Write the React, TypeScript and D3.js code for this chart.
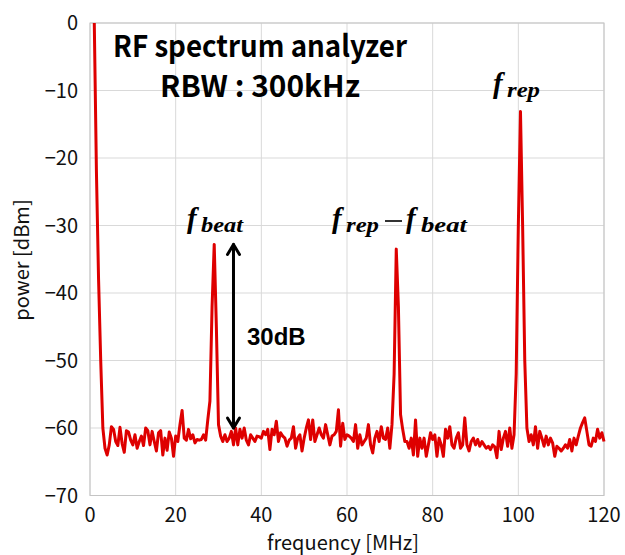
import React from 'react';
import * as d3 from 'd3';

// RF spectrum, 1.0 MHz .. 120.0 MHz in 0.5 MHz steps (dBm)
const startMHz = 1.0;
const stepMHz = 0.5;
const powerDBm = [
  0, -22, -38, -50, -60, -63.0, -64.0, -62.5, -59.8, -60.2,
  -62.0, -62.6, -59.9, -62.3, -63.6, -60.4, -60.6, -61.8, -62.5, -61.0,
  -63.0, -62.0, -61.2, -62.6, -60.0, -60.4, -62.5, -60.5, -62.0, -63.4,
  -60.7, -60.4, -64.0, -61.5, -63.3, -60.6, -61.5, -64.2, -61.2, -62.0,
  -59.5, -57.4, -61.5, -61.8, -60.2, -61.6, -61.0, -62.2, -61.7, -61.8,
  -61.7, -61.0, -61.8, -58.8, -56.0, -42.0, -32.8, -45.0, -59.5, -61.2,
  -62.0, -61.0, -62.0, -61.5, -60.5, -62.5, -60.0, -62.5, -60.2, -61.5,
  -60.0, -61.8, -62.5, -61.0, -61.5, -62.0, -61.2, -61.3, -61.5, -60.5,
  -61.0, -60.2, -63.2, -60.2, -61.0, -59.0, -62.0, -60.7, -61.2, -61.5,
  -62.7, -61.8, -61.5, -59.8, -63.0, -61.5, -61.0, -63.4, -61.5, -60.0,
  -58.8, -61.7, -58.8, -62.0, -61.0, -60.0, -61.0, -61.5, -59.5, -61.0,
  -62.5, -61.2, -61.0, -60.5, -57.3, -62.7, -59.3, -61.7, -61.0, -61.2,
  -61.5, -62.0, -59.5, -63.0, -61.0, -62.5, -62.0, -61.5, -59.5, -62.5,
  -63.7, -61.5, -60.5, -62.0, -59.8, -61.5, -61.7, -60.0, -63.0, -59.5,
  -52.0, -33.5, -42.0, -58.0, -60.2, -62.0, -62.0, -63.0, -61.5, -64.0,
  -58.8, -64.2, -61.5, -63.0, -61.5, -64.2, -62.5, -60.7, -61.7, -61.0,
  -64.2, -61.5, -62.5, -64.2, -60.2, -61.5, -59.8, -62.5, -63.0, -61.5,
  -60.7, -63.0, -62.5, -58.5, -62.5, -63.4, -62.0, -61.5, -62.5, -61.7,
  -62.7, -62.0, -62.5, -63.0, -62.7, -63.2, -62.5, -62.8, -64.4, -60.5,
  -63.2, -61.5, -60.5, -62.7, -60.0, -63.0, -61.0, -52.0, -30.0, -13.1,
  -30.0, -50.0, -60.0, -62.0, -61.0, -62.5, -59.8, -63.0, -60.5, -61.5,
  -62.7, -61.2, -62.5, -61.5, -62.2, -64.2, -62.7, -63.0, -63.4, -63.0,
  -62.5, -63.0, -61.7, -63.4, -61.5, -62.5, -61.2, -60.0, -59.2, -58.5,
  -60.5, -62.5, -62.7, -61.5, -62.0, -60.2, -61.5, -60.7, -62.0,
];

const xTicks = [0, 20, 40, 60, 80, 100, 120];
const yTicks = [0, -10, -20, -30, -40, -50, -60, -70];

// 30 dB arrow between the f_beat peak and the noise floor
const arrowMHz = 33.5;
const arrowFrom = -60;
const arrowTo = -32.8;

const W = 625;
const H = 555;
const plot = { left: 90, right: 604, top: 23, bottom: 495.5 };

const labelFont = '"Noto Sans CJK JP", "Noto Sans", sans-serif';
const mathFont = '"Liberation Serif", "DejaVu Serif", serif';

// italic f with a subscript, placed by hand to the picture's letter boxes
const MathF = (props: { x: number; y: number; sub: string; subX: number; subW: number }) => (
  <g fontFamily={mathFont} fontStyle="italic" fontWeight="bold" fill="#000">
    <text x={props.x} y={props.y} fontSize={29}>
      f
    </text>
    <text
      x={props.subX}
      y={props.y + 4}
      fontSize={21}
      textLength={props.subW}
      lengthAdjust="spacingAndGlyphs"
    >
      {props.sub}
    </text>
  </g>
);

const App = () => {
  const x = d3.scaleLinear().domain([0, 120]).range([plot.left, plot.right]);
  const y = d3.scaleLinear().domain([-70, 0]).range([plot.bottom, plot.top]);

  const points: [number, number][] = powerDBm.map((p, i) => [startMHz + i * stepMHz, p]);
  const line = d3
    .line<[number, number]>()
    .x((d) => x(d[0]))
    .y((d) => y(d[1]));

  const ax = x(arrowMHz);
  const ay1 = y(arrowFrom);
  const ay2 = y(arrowTo);

  return (
    <svg width={W} height={H} style={{ position: 'absolute', left: 0, top: 0, background: '#fff' }}>
      {/* grid */}
      {xTicks.map((t) => (
        <line key={'gx' + t} x1={x(t)} x2={x(t)} y1={plot.top} y2={plot.bottom} stroke="#d9d9d9" strokeWidth={1} />
      ))}
      {yTicks.map((t) => (
        <line key={'gy' + t} x1={plot.left} x2={plot.right} y1={y(t)} y2={y(t)} stroke="#d9d9d9" strokeWidth={1} />
      ))}
      <rect
        x={plot.left}
        y={plot.top}
        width={plot.right - plot.left}
        height={plot.bottom - plot.top}
        fill="none"
        stroke="#c4c4c4"
        strokeWidth={1}
      />

      {/* tick labels */}
      {xTicks.map((t) => (
        <text key={'tx' + t} x={x(t)} y={522} textAnchor="middle" fontFamily={labelFont} fontSize={20} fill="#111">
          {t}
        </text>
      ))}
      {yTicks.map((t) => (
        <text
          key={'ty' + t}
          x={78}
          y={y(t)}
          dy="0.36em"
          textAnchor="end"
          fontFamily={labelFont}
          fontSize={20}
          fill="#111"
        >
          {d3.format('d')(t)}
        </text>
      ))}

      {/* axis titles */}
      <text x={343} y={550} textAnchor="middle" fontFamily={labelFont} fontSize={20} fill="#111">
        frequency [MHz]
      </text>
      <text
        transform={`translate(29,260) rotate(-90)`}
        textAnchor="middle"
        fontFamily={labelFont}
        fontSize={20}
        fill="#111"
      >
        power [dBm]
      </text>

      {/* spectrum trace */}
      <path d={line(points) || ''} fill="none" stroke="#de0000" strokeWidth={3} strokeLinejoin="round" />

      {/* 30 dB arrow */}
      <g stroke="#000" strokeWidth={3} fill="none" strokeLinecap="round" strokeLinejoin="round">
        <line x1={ax} x2={ax} y1={ay1} y2={ay2} />
        <polyline points={`${ax - 6},${ay2 + 10} ${ax},${ay2} ${ax + 6},${ay2 + 10}`} />
        <polyline points={`${ax - 6},${ay1 - 10} ${ax},${ay1} ${ax + 6},${ay1 - 10}`} />
      </g>
      <text x={247} y={345} fontFamily='"Liberation Sans", Arial, sans-serif' fontWeight="bold" fontSize={24} fill="#000">
        30dB
      </text>

      {/* titles */}
      <text
        x={113}
        y={57}
        fontFamily={labelFont}
        fontWeight="bold"
        fontSize={30}
        textLength={294}
        lengthAdjust="spacingAndGlyphs"
        fill="#000"
      >
        RF spectrum analyzer
      </text>
      <text
        x={160}
        y={97}
        fontFamily={labelFont}
        fontWeight="bold"
        fontSize={30}
        textLength={200}
        lengthAdjust="spacingAndGlyphs"
        fill="#000"
      >
        RBW : 300kHz
      </text>

      {/* peak labels */}
      <MathF x={187} y={228} sub="beat" subX={201} subW={42} />
      <MathF x={493} y={93} sub="rep" subX={507} subW={33} />
      <MathF x={332} y={228} sub="rep" subX={346} subW={33} />
      <line x1={385} x2={402} y1={221} y2={221} stroke="#000" strokeWidth={1.6} />
      <MathF x={406} y={228} sub="beat" subX={421} subW={46} />
    </svg>
  );
};

export default App;
